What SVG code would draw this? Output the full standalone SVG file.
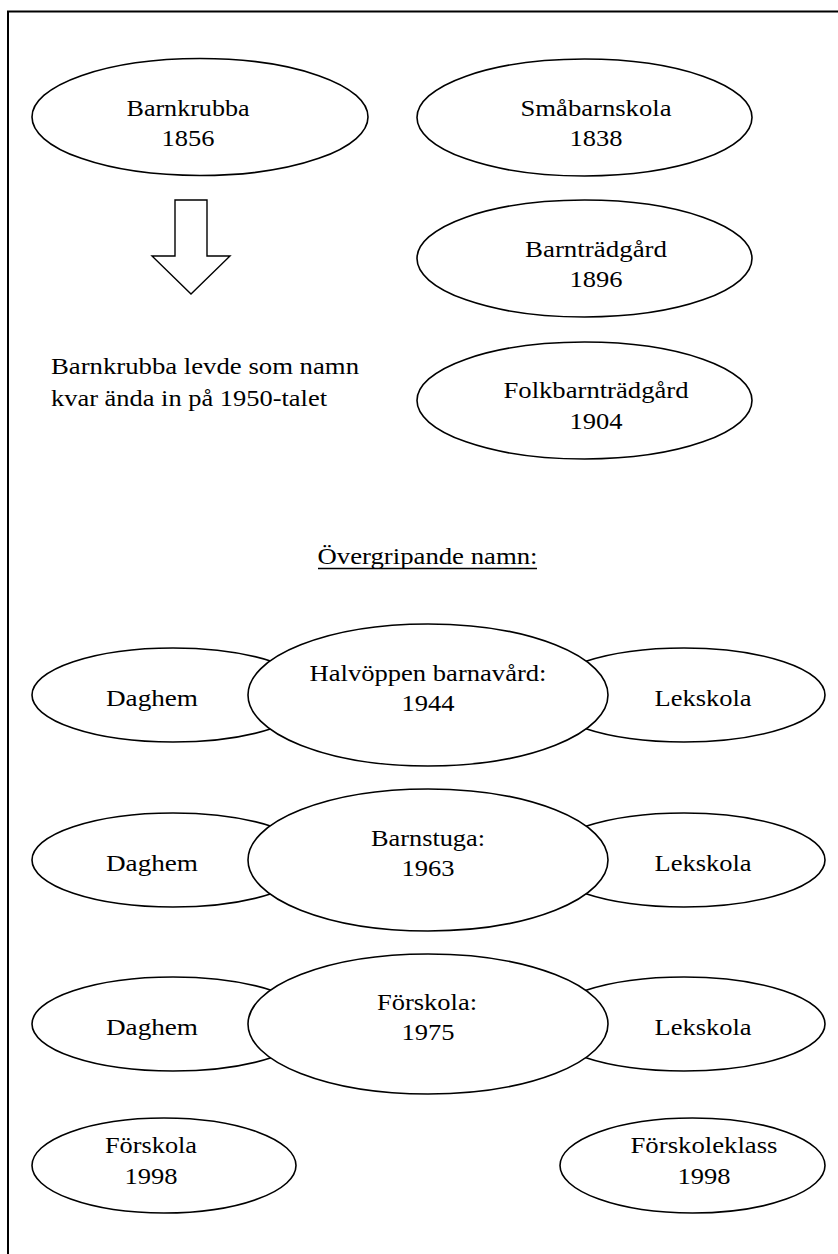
<svg xmlns="http://www.w3.org/2000/svg" width="838" height="1254" viewBox="0 0 838 1254">
<style>
.e{fill:#fff;stroke:#000;stroke-width:1.6}
text{font-size:24px;fill:#000}
.t{text-anchor:middle}
</style>
<rect width="838" height="1254" fill="#fff"/>
<path d="M8,1254 V11.5 H838" fill="none" stroke="#000" stroke-width="2"/>
<g font-family="Liberation Serif, Times New Roman, DejaVu Serif, serif" lengthAdjust="spacingAndGlyphs">

<g id="barnkrubba">
<ellipse class="e" cx="200" cy="117" rx="168" ry="58.5"/>
<text class="t" x="188" y="116" textLength="123" lengthAdjust="spacingAndGlyphs">Barnkrubba</text>
<text class="t" x="188" y="146" textLength="53" lengthAdjust="spacingAndGlyphs">1856</text>
</g>

<g id="connectors">
<polygon points="175,200 207,200 207,256 230,256 191,294 152,256 175,256" fill="#fff" stroke="#000" stroke-width="1.4"/>
</g>

<g id="note">
<text x="51" y="374" textLength="308" lengthAdjust="spacingAndGlyphs">Barnkrubba levde som namn</text>
<text x="51" y="406" textLength="276" lengthAdjust="spacingAndGlyphs">kvar ända in på 1950-talet</text>
</g>

<g id="smabarnskola">
<ellipse class="e" cx="584.5" cy="117.5" rx="167.5" ry="58.5"/>
<text class="t" x="596" y="116" textLength="151" lengthAdjust="spacingAndGlyphs">Småbarnskola</text>
<text class="t" x="596" y="146" textLength="53" lengthAdjust="spacingAndGlyphs">1838</text>
</g>

<g id="barntradgard">
<ellipse class="e" cx="584.5" cy="258.5" rx="167.5" ry="58.5"/>
<text class="t" x="596" y="257" textLength="142" lengthAdjust="spacingAndGlyphs">Barnträdgård</text>
<text class="t" x="596" y="287" textLength="53" lengthAdjust="spacingAndGlyphs">1896</text>
</g>

<g id="folkbarntradgard">
<ellipse class="e" cx="584.5" cy="400.5" rx="167.5" ry="58.5"/>
<text class="t" x="596" y="398" textLength="185" lengthAdjust="spacingAndGlyphs">Folkbarnträdgård</text>
<text class="t" x="596" y="429" textLength="53" lengthAdjust="spacingAndGlyphs">1904</text>
</g>

<g id="overgripande">
<text class="t" x="427.5" y="564" textLength="220" lengthAdjust="spacingAndGlyphs">Övergripande namn:</text>
<line x1="318" y1="568.5" x2="537" y2="568.5" stroke="#000" stroke-width="1.5"/>
</g>

<g id="daghem1">
<ellipse class="e" cx="173" cy="695" rx="141" ry="47"/>
<text class="t" x="152" y="706" textLength="92" lengthAdjust="spacingAndGlyphs">Daghem</text>
</g>
<g id="lekskola1">
<ellipse class="e" cx="684" cy="695" rx="141" ry="47"/>
<text class="t" x="703" y="706" textLength="97" lengthAdjust="spacingAndGlyphs">Lekskola</text>
</g>
<g id="halvoppen">
<ellipse class="e" cx="428" cy="695" rx="180" ry="71"/>
<text class="t" x="428" y="681" textLength="237" lengthAdjust="spacingAndGlyphs">Halvöppen barnavård:</text>
<text class="t" x="428" y="711" textLength="53" lengthAdjust="spacingAndGlyphs">1944</text>
</g>

<g id="daghem2">
<ellipse class="e" cx="173" cy="860" rx="141" ry="47"/>
<text class="t" x="152" y="871" textLength="92" lengthAdjust="spacingAndGlyphs">Daghem</text>
</g>
<g id="lekskola2">
<ellipse class="e" cx="684" cy="860" rx="141" ry="47"/>
<text class="t" x="703" y="871" textLength="97" lengthAdjust="spacingAndGlyphs">Lekskola</text>
</g>
<g id="barnstuga">
<ellipse class="e" cx="428" cy="860" rx="180" ry="71"/>
<text class="t" x="428" y="846" textLength="114" lengthAdjust="spacingAndGlyphs">Barnstuga:</text>
<text class="t" x="428" y="876" textLength="53" lengthAdjust="spacingAndGlyphs">1963</text>
</g>

<g id="daghem3">
<ellipse class="e" cx="173" cy="1024" rx="141" ry="47"/>
<text class="t" x="152" y="1035" textLength="92" lengthAdjust="spacingAndGlyphs">Daghem</text>
</g>
<g id="lekskola3">
<ellipse class="e" cx="684" cy="1024" rx="141" ry="47"/>
<text class="t" x="703" y="1035" textLength="97" lengthAdjust="spacingAndGlyphs">Lekskola</text>
</g>
<g id="forskola1975">
<ellipse class="e" cx="428" cy="1024" rx="180" ry="70"/>
<text class="t" x="427" y="1010" textLength="100" lengthAdjust="spacingAndGlyphs">Förskola:</text>
<text class="t" x="428" y="1040" textLength="53" lengthAdjust="spacingAndGlyphs">1975</text>
</g>

<g id="forskola1998">
<ellipse class="e" cx="164" cy="1165.5" rx="132" ry="47.5"/>
<text class="t" x="151" y="1153" textLength="92" lengthAdjust="spacingAndGlyphs">Förskola</text>
<text class="t" x="151" y="1184" textLength="53" lengthAdjust="spacingAndGlyphs">1998</text>
</g>

<g id="forskoleklass1998">
<ellipse class="e" cx="692.5" cy="1165.5" rx="132.5" ry="47.5"/>
<text class="t" x="704" y="1153" textLength="147" lengthAdjust="spacingAndGlyphs">Förskoleklass</text>
<text class="t" x="704" y="1184" textLength="53" lengthAdjust="spacingAndGlyphs">1998</text>
</g>
</g>
</svg>
